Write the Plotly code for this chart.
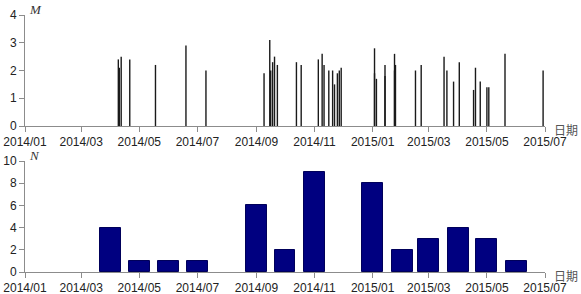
import plotly.graph_objects as go

# ---- data ----
event_dates = [
    "2014-04-09", "2014-04-10", "2014-04-12", "2014-04-21",
    "2014-05-18", "2014-06-19", "2014-07-10",
    "2014-09-09", "2014-09-15", "2014-09-16", "2014-09-18", "2014-09-20", "2014-09-23",
    "2014-10-13", "2014-10-18",
    "2014-11-05", "2014-11-09", "2014-11-11", "2014-11-16", "2014-11-20",
    "2014-11-22", "2014-11-25", "2014-11-27", "2014-11-29",
    "2015-01-03", "2015-01-03", "2015-01-05", "2015-01-14", "2015-01-14",
    "2015-01-24", "2015-01-24", "2015-01-25",
    "2015-02-15", "2015-02-21",
    "2015-03-17", "2015-03-20", "2015-03-27",
    "2015-04-02", "2015-04-17", "2015-04-19", "2015-04-24",
    "2015-05-01", "2015-05-03", "2015-05-20",
    "2015-06-29",
]
magnitudes = [
    2.4, 2.1, 2.5, 2.4,
    2.2, 2.9, 2.0,
    1.9, 3.1, 2.0, 2.3, 2.5, 2.2,
    2.3, 2.2,
    2.4, 2.6, 2.2, 2.0, 2.0,
    1.5, 1.9, 2.0, 2.1,
    2.8, 1.9, 1.7, 2.2, 1.8,
    2.6, 2.0, 2.2,
    2.0, 2.2,
    2.5, 2.0, 1.6,
    2.3, 1.3, 2.1, 1.6,
    1.4, 1.4, 2.6,
    2.0,
]
months = ["2014-04-01", "2014-05-01", "2014-06-01", "2014-07-01", "2014-09-01",
          "2014-10-01", "2014-11-01", "2015-01-01", "2015-02-01", "2015-03-01",
          "2015-04-01", "2015-05-01", "2015-06-01"]
counts = [4, 1, 1, 1, 6, 2, 9, 8, 2, 3, 4, 3, 1]

# ---- figure ----
W, H = 581, 294
def px(x):
    return x / W
def py(y):
    return (H - y) / H

lx, ly = [], []
for d, m in zip(event_dates, magnitudes):
    lx += [d, d, None]
    ly += [0, m, None]

fig = go.Figure()
fig.add_trace(go.Scatter(x=lx, y=ly, mode="lines", line=dict(color="#1a1a1a", width=1.4),
                         xaxis="x", yaxis="y", showlegend=False, hoverinfo="skip"))
fig.add_trace(go.Bar(x=months, y=counts, width=22 * 86400000,
                     marker=dict(color="#000080", line=dict(color="#00005a", width=1)),
                     xaxis="x2", yaxis="y2", showlegend=False))

axis_col = "#8c8c8c"
tickfont = dict(family="Liberation Sans, Arial, sans-serif", size=12, color="#222222")
xcommon = dict(type="date", range=["2014-01-01", "2015-07-01"], tick0="2014-01-01", dtick="M2",
               tickformat="%Y/%m", showgrid=False, zeroline=False, showline=True,
               linecolor=axis_col, linewidth=1, ticks="outside", ticklen=5, tickcolor=axis_col,
               tickfont=tickfont, domain=[px(25), px(545)], automargin=False)
ycommon = dict(showgrid=False, zeroline=False, showline=True, linecolor=axis_col, linewidth=1,
               ticks="outside", ticklen=5, tickcolor=axis_col, tickfont=tickfont,
               automargin=False)

fig.update_layout(
    width=W, height=H, margin=dict(l=0, r=0, t=0, b=0, autoexpand=False),
    plot_bgcolor="white", paper_bgcolor="white", bargap=0,
    xaxis=dict(xcommon, anchor="y"),
    yaxis=dict(ycommon, range=[0, 4], dtick=1, domain=[py(126), py(15)], anchor="x"),
    xaxis2=dict(xcommon, anchor="y2"),
    yaxis2=dict(ycommon, range=[0, 10], dtick=2, domain=[py(272), py(161)], anchor="x2"),
    annotations=[
        dict(text="<i>M</i>", x=px(27), y=py(9), xref="paper", yref="paper", xanchor="left",
             yanchor="middle", showarrow=False,
             font=dict(family="Liberation Serif, Times New Roman, serif", size=13, color="#333")),
        dict(text="<i>N</i>", x=px(27), y=py(155), xref="paper", yref="paper", xanchor="left",
             yanchor="middle", showarrow=False,
             font=dict(family="Liberation Serif, Times New Roman, serif", size=13, color="#333")),
        dict(text="日期", x=px(552), y=py(129), xref="paper", yref="paper", xanchor="left",
             yanchor="middle", showarrow=False,
             font=dict(family="Noto Sans CJK SC", size=12, color="#555")),
        dict(text="日期", x=px(552), y=py(275), xref="paper", yref="paper", xanchor="left",
             yanchor="middle", showarrow=False,
             font=dict(family="Noto Sans CJK SC", size=12, color="#555")),
    ],
)

fig.write_html("out.html")
